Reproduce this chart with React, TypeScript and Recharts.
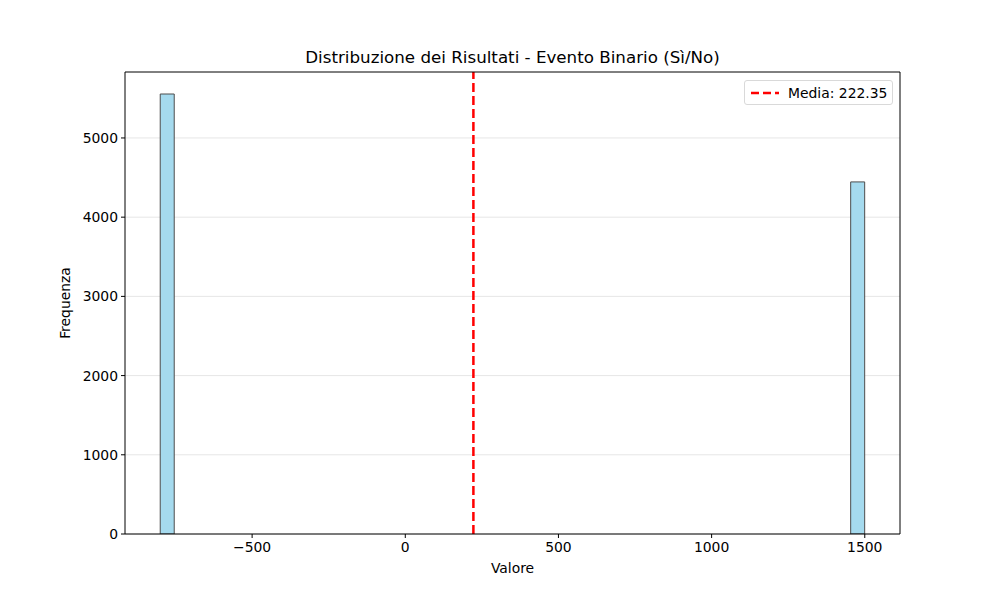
import { ComposedChart, Bar, XAxis, YAxis, CartesianGrid, ReferenceLine, Label } from "recharts";

// histogram: 50 bins between the smallest and largest outcome
const outcomeRange = [-800, 1500];
const binCounts = [
  5555, 0, 0, 0, 0, 0, 0, 0, 0, 0,
  0, 0, 0, 0, 0, 0, 0, 0, 0, 0,
  0, 0, 0, 0, 0, 0, 0, 0, 0, 0,
  0, 0, 0, 0, 0, 0, 0, 0, 0, 0,
  0, 0, 0, 0, 0, 0, 0, 0, 0, 4445,
];
const meanValue = 222.35;
const xTicks = [-500, 0, 500, 1000, 1500];
const yTicks = [0, 1000, 2000, 3000, 4000, 5000];

const binWidth = (outcomeRange[1] - outcomeRange[0]) / binCounts.length;
const data = binCounts.map((count, i) => ({
  center: outcomeRange[0] + binWidth * (i + 0.5),
  count,
}));

const span = outcomeRange[1] - outcomeRange[0];
const xDomain = [outcomeRange[0] - span * 0.05, outcomeRange[1] + span * 0.05];
const yDomain = [0, Math.max(...binCounts) * 1.05];

const font = "'DejaVu Sans', sans-serif";
const tickStyle = { fill: "#000", fontSize: 13.9, fontFamily: font };
const minus = (v: number) => String(v).replace("-", "\u2212");

const LegendBox = () => (
  <div
    style={{
      position: "absolute",
      left: 744,
      top: 80,
      width: 149,
      height: 25,
      border: "1px solid #d9d9d9",
      borderRadius: 3,
      background: "#fff",
      display: "flex",
      alignItems: "center",
      fontFamily: font,
      fontSize: 13.9,
      boxSizing: "border-box",
    }}
  >
    <svg width={43} height={10}>
      <line x1={6} y1={5} x2={34} y2={5} stroke="red" strokeWidth={2.5} strokeDasharray="8 4" />
    </svg>
    <span>Media: 222.35</span>
  </div>
);

export default function App() {
  return (
    <div style={{ position: "absolute", left: 0, top: 0, width: 1000, height: 600, background: "#fff", fontFamily: font }}>
      <div style={{ position: "absolute", left: 125, width: 775, top: 47, textAlign: "center", fontSize: 16.7, color: "#000" }}>
        Distribuzione dei Risultati - Evento Binario (Sì/No)
      </div>
      <LegendBox />
      <ComposedChart
        width={1000}
        height={600}
        data={data}
        margin={{ top: 72, right: 100, bottom: 36, left: 65 }}
        barCategoryGap={0}
        barGap={0}
      >
        <CartesianGrid vertical={false} stroke="#e6e6e6" horizontalValues={yTicks} />
        <XAxis
          dataKey="center"
          type="number"
          domain={xDomain}
          ticks={xTicks}
          allowDataOverflow
          tickFormatter={minus}
          tickSize={4}
          tickMargin={4}
          height={30}
          stroke="#000"
          tick={tickStyle}
        >
          <Label value="Valore" position="insideBottom" offset={-9} style={tickStyle} />
        </XAxis>
        <YAxis
          type="number"
          domain={yDomain}
          ticks={yTicks}
          allowDataOverflow
          tickSize={4}
          tickMargin={3}
          width={60}
          stroke="#000"
          tick={tickStyle}
        >
          <Label value="Frequenza" angle={-90} position="insideLeft" offset={0} style={{ ...tickStyle, textAnchor: "middle" }} />
        </YAxis>
        <Bar dataKey="count" fill="#a5daee" stroke="#4d4d4d" strokeWidth={1} isAnimationActive={false} />
        <ReferenceLine x={meanValue} stroke="red" strokeWidth={2.5} strokeDasharray="9 4" />
        <ReferenceLine y={yDomain[1]} stroke="#000" strokeWidth={1} ifOverflow="extendDomain" />
        <ReferenceLine x={xDomain[1]} stroke="#000" strokeWidth={1} ifOverflow="extendDomain" />
      </ComposedChart>
    </div>
  );
}
